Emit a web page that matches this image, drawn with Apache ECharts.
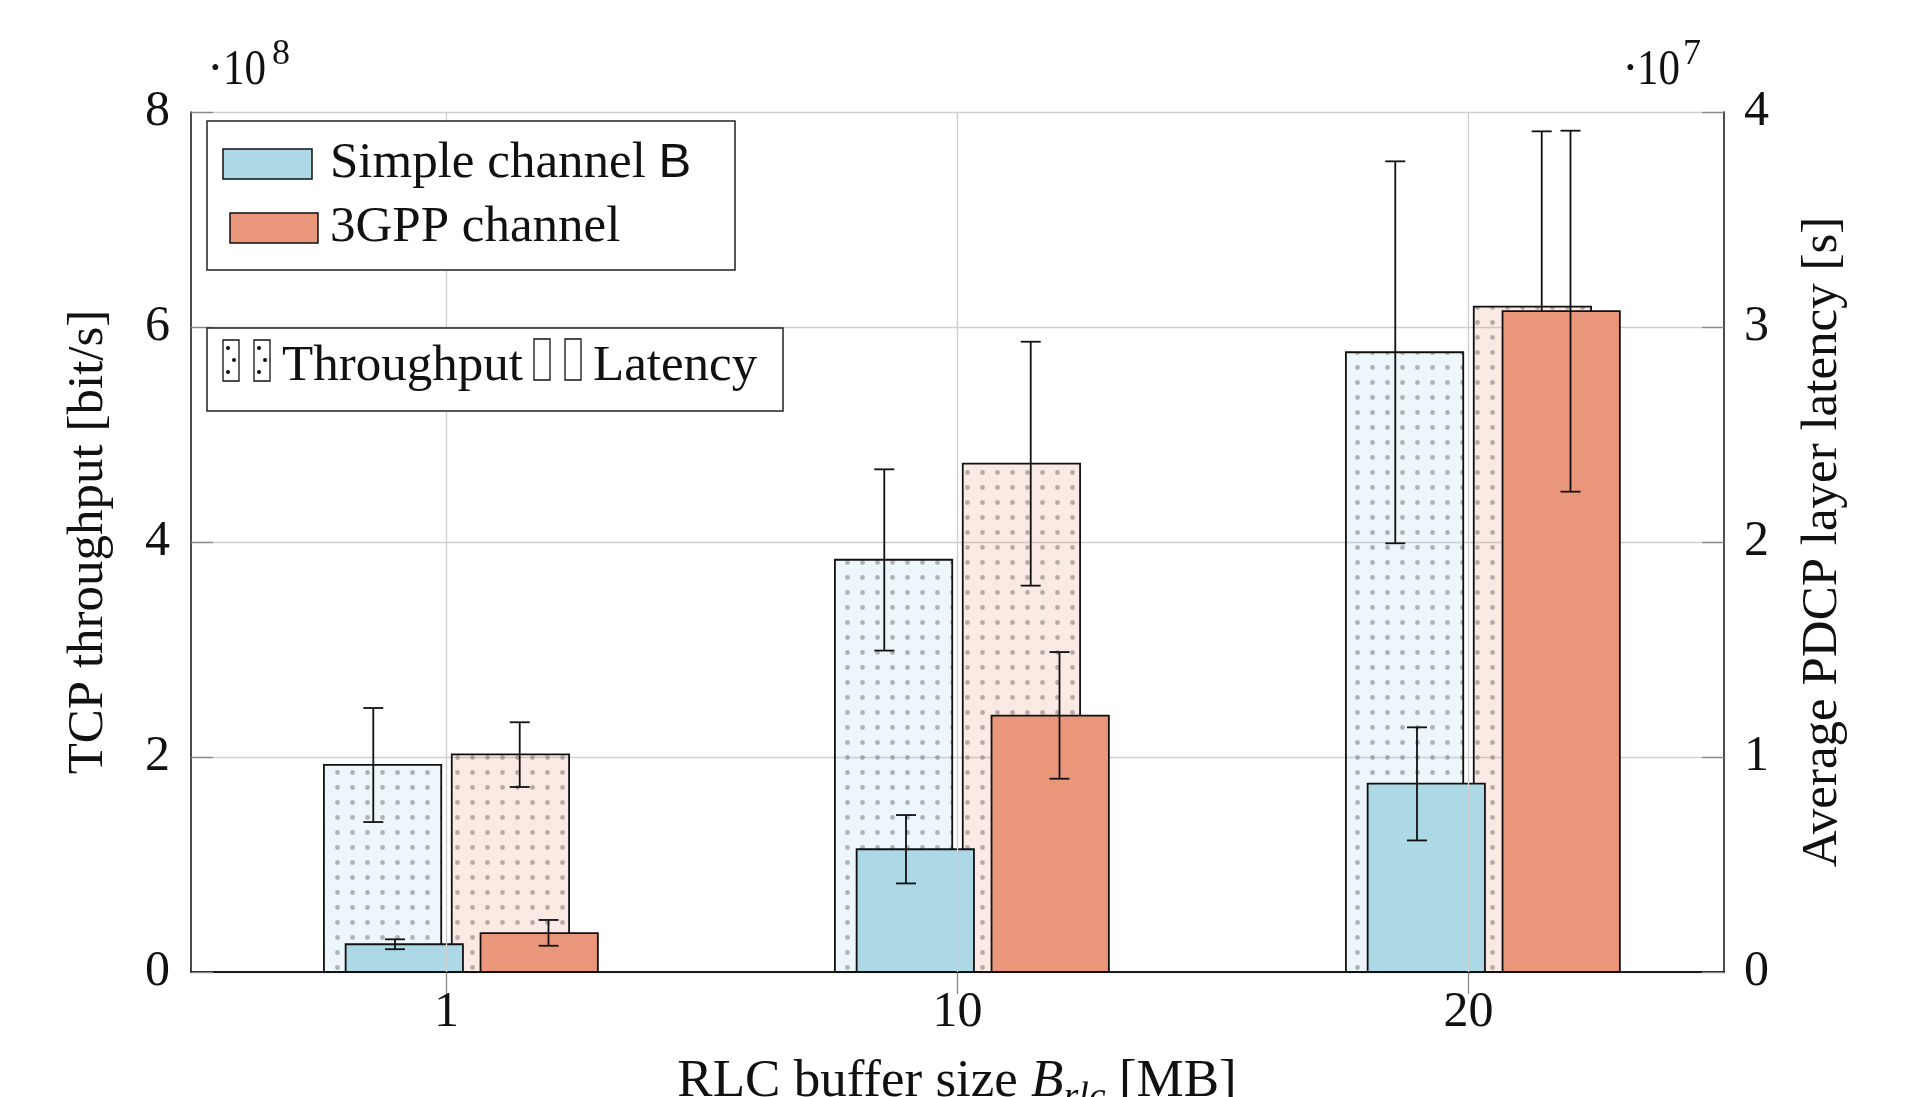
<!DOCTYPE html>
<html>
<head>
<meta charset="utf-8">
<script src="https://cdn.jsdelivr.net/npm/echarts@6/dist/echarts.min.js"></script>
<style>
html,body{margin:0;padding:0;background:#fff;}
#chart{width:1908px;height:1097px;}
</style>
</head>
<body>
<div id="chart"></div>
<script>
// ---- data ----
const categories = ['1', '10', '20'];
const leftTicks = [0, 2, 4, 6, 8];          // x 10^8
const rightTicks = [0, 1, 2, 3, 4];         // x 10^7

const simpleThroughput     = [1.926e8, 3.835e8, 5.765e8];
const simpleThroughputLow  = [1.395e8, 2.990e8, 3.988e8];
const simpleThroughputHigh = [2.456e8, 4.676e8, 7.541e8];

const gppThroughput     = [2.025e8, 4.729e8, 6.190e8];
const gppThroughputLow  = [1.721e8, 3.594e8, 4.560e8];
const gppThroughputHigh = [2.323e8, 5.863e8, 7.820e8];

const simpleLatency     = [0.129e7, 0.571e7, 0.876e7];
const simpleLatencyLow  = [0.106e7, 0.412e7, 0.612e7];
const simpleLatencyHigh = [0.152e7, 0.730e7, 1.138e7];

const gppLatency     = [0.181e7, 1.192e7, 3.074e7];
const gppLatencyLow  = [0.122e7, 0.899e7, 2.234e7];
const gppLatencyHigh = [0.242e7, 1.488e7, 3.913e7];

// ---- styling ----
const SERIF = '"Liberation Serif", "Times New Roman", serif';
const BLUE = '#add8e6';
const ORANGE = '#e9967a';
const BAR_W = 0.2296;          // fraction of category band
const ERR_OFF = 0.0182;        // error bar offset (fraction of band)

function makePattern(tint) {
  const c = document.createElement('canvas');
  c.width = 15; c.height = 15;
  const ctx = c.getContext('2d');
  ctx.fillStyle = tint;
  ctx.fillRect(0, 0, 15, 15);
  ctx.fillStyle = 'rgba(105,105,105,0.48)';
  ctx.beginPath();
  ctx.arc(7.5, 7.5, 2.4, 0, Math.PI * 2);
  ctx.fill();
  return {type: 'pattern', image: c, repeat: 'repeat'};
}
const bluePattern = makePattern('rgba(173,216,230,0.22)');
const orangePattern = makePattern('rgba(233,150,122,0.20)');

function barRenderer(offsetFrac, fill) {
  return function (params, api) {
    const i = api.value(0), v = api.value(1);
    const band = api.size([1, 0])[0];
    const w = band * BAR_W;
    const p0 = api.coord([i, 0]);
    const p1 = api.coord([i, v]);
    const cx = p0[0] + band * offsetFrac;
    return {
      type: 'rect',
      shape: {x: cx - w / 2, y: p1[1], width: w, height: p0[1] - p1[1]},
      style: {fill: fill, stroke: '#111', lineWidth: 1.8}
    };
  };
}
function errRenderer(offsetFrac) {
  return function (params, api) {
    const i = api.value(0);
    const band = api.size([1, 0])[0];
    const pl = api.coord([i, api.value(1)]);
    const ph = api.coord([i, api.value(2)]);
    const cx = pl[0] + band * offsetFrac;
    const st = {stroke: '#111', lineWidth: 1.8};
    return {
      type: 'group',
      children: [
        {type: 'line', shape: {x1: cx, y1: ph[1], x2: cx, y2: pl[1]}, style: st},
        {type: 'line', shape: {x1: cx - 10, y1: ph[1], x2: cx + 10, y2: ph[1]}, style: st},
        {type: 'line', shape: {x1: cx - 10, y1: pl[1], x2: cx + 10, y2: pl[1]}, style: st}
      ]
    };
  };
}
const toBars = arr => arr.map((v, i) => [i, v]);
const toErr = (lo, hi) => lo.map((v, i) => [i, v, hi[i]]);

function barSeries(name, yIdx, data, offset, fill, z) {
  return {name, type: 'custom', xAxisIndex: 0, yAxisIndex: yIdx, z,
    renderItem: barRenderer(offset, fill), data: toBars(data),
    encode: {x: 0, y: 1}, silent: true};
}
function errSeries(name, yIdx, lo, hi, offset, z) {
  return {name, type: 'custom', xAxisIndex: 0, yAxisIndex: yIdx, z,
    renderItem: errRenderer(offset), data: toErr(lo, hi),
    encode: {x: 0, y: [1, 2]}, silent: true};
}

// ---- x-axis title pieces measured with canvas ----
const mctx = document.createElement('canvas').getContext('2d');
function tw(t, font) { mctx.font = font; return mctx.measureText(t).width; }
const fMain = '53px ' + SERIF, fIt = 'italic 53px ' + SERIF, fSub = 'italic 38px ' + SERIF;
const parts = [
  {t: 'RLC buffer size ', f: fMain, dy: 0},
  {t: 'B', f: fIt, dy: 0},
  {t: 'rlc', f: fSub, dy: 8},
  {t: ' [MB]', f: fMain, dy: 0}
];
const totalW = parts.reduce((s, p) => s + tw(p.t, p.f), 0);
let xcur = 957 - totalW / 2;
const titleGraphics = parts.map(p => {
  const g = {type: 'text', x: xcur, y: 1097 + p.dy, silent: true,
    style: {text: p.t, font: p.f, fill: '#111', align: 'left', verticalAlign: 'bottom'}};
  xcur += tw(p.t, p.f);
  return g;
});
titleGraphics.forEach(g => { g.y += 12; });

function dotRect(x, y) {
  return [
    {type: 'rect', shape: {x, y, width: 16, height: 41}, style: {fill: '#fff', stroke: '#111', lineWidth: 1.3}},
    {type: 'circle', shape: {cx: x + 5, cy: y + 8, r: 2}, style: {fill: '#111'}},
    {type: 'circle', shape: {cx: x + 11, cy: y + 20, r: 2}, style: {fill: '#111'}},
    {type: 'circle', shape: {cx: x + 5, cy: y + 32, r: 2}, style: {fill: '#111'}}
  ];
}
function txt(t, x, baseline, size, extra) {
  return Object.assign({type: 'text', x, y: baseline - 0.305 * size, silent: true,
    style: {text: t, font: size + 'px ' + SERIF, fill: '#111', align: 'left', verticalAlign: 'middle'}}, extra || {});
}

const graphics = [
  // legend box 1
  {type: 'rect', z: 100, shape: {x: 207, y: 121, width: 528, height: 149}, style: {fill: '#fff', stroke: '#222', lineWidth: 1.5}},
  {type: 'rect', z: 101, shape: {x: 223, y: 149, width: 89, height: 30}, style: {fill: BLUE, stroke: '#111', lineWidth: 1.5}},
  {type: 'rect', z: 101, shape: {x: 230, y: 213, width: 88, height: 30}, style: {fill: ORANGE, stroke: '#111', lineWidth: 1.5}},
  {type: 'text', z: 101, x: 330, y: 179 - 15.5, silent: true,
    style: {text: '{a|Simple channel }{b|B}', verticalAlign: 'middle', align: 'left',
      rich: {a: {font: '51px ' + SERIF, fill: '#111'}, b: {font: '49px "Liberation Sans", Arial, sans-serif', fill: '#111'}}}},
  Object.assign(txt('3GPP channel', 330, 243, 51), {z: 101}),
  // legend box 2
  {type: 'rect', z: 100, shape: {x: 207, y: 328, width: 576, height: 83}, style: {fill: '#fff', stroke: '#222', lineWidth: 1.5}},
  ...dotRect(223, 340).map(e => Object.assign(e, {z: 101})),
  ...dotRect(254, 340).map(e => Object.assign(e, {z: 101})),
  Object.assign(txt('Throughput', 282, 382, 51), {z: 101}),
  {type: 'rect', z: 101, shape: {x: 534, y: 339, width: 16, height: 41}, style: {fill: '#fff', stroke: '#111', lineWidth: 1.3}},
  {type: 'rect', z: 101, shape: {x: 565, y: 339, width: 16, height: 41}, style: {fill: '#fff', stroke: '#111', lineWidth: 1.3}},
  Object.assign(txt('Latency', 593, 382, 51), {z: 101}),
  // exponent markers
  txt('\u00b7', 207, 86, 50),
  txt('10', 223, 86, 50, {scaleX: 0.86}),
  txt('8', 272, 66, 36),
  txt('\u00b7', 1622, 86, 50),
  txt('10', 1637, 86, 50, {scaleX: 0.86}),
  txt('7', 1683, 66, 36),
  ...titleGraphics
];

const chart = echarts.init(document.getElementById('chart'), null, {renderer: 'canvas'});
const axisFont = {fontFamily: SERIF, fontSize: 50, color: '#111'};
chart.setOption({
  animation: false,
  backgroundColor: '#fff',
  grid: {left: 191, right: 184, top: 112, bottom: 125, containLabel: false},
  xAxis: [
    {type: 'category', data: categories, position: 'bottom',
      axisLine: {show: true, lineStyle: {color: '#111', width: 1.5}},
      axisTick: {show: true, inside: true, alignWithLabel: true, length: 22, lineStyle: {color: '#888', width: 1.3}},
      axisLabel: Object.assign({margin: 16}, axisFont),
      splitLine: {show: false}},
    {type: 'category', data: categories, position: 'top',
      axisLine: {show: true, lineStyle: {color: '#111', width: 1.5}},
      axisTick: {show: true, inside: true, alignWithLabel: true, length: 22, lineStyle: {color: '#888', width: 1.3}},
      axisLabel: {show: false}, splitLine: {show: false}}
  ],
  yAxis: [
    {type: 'value', min: 0, max: 8e8, interval: 2e8, position: 'left',
      name: 'TCP throughput [bit/s]', nameLocation: 'middle', nameRotate: 90, nameGap: 77,
      nameTextStyle: {fontFamily: SERIF, fontSize: 51, color: '#111'},
      axisLine: {show: true, lineStyle: {color: '#111', width: 1.5}},
      axisTick: {show: true, inside: true, length: 22, lineStyle: {color: '#888', width: 1.3}},
      axisLabel: Object.assign({margin: 21, formatter: v => String(leftTicks[Math.round(v / 2e8)])}, axisFont),
      splitLine: {show: true, lineStyle: {color: '#cfcfcf', width: 1.4}}},
    {type: 'value', min: 0, max: 4e7, interval: 1e7, position: 'right',
      name: 'Average PDCP layer latency [s]', nameLocation: 'middle', nameRotate: 90, nameGap: 73,
      nameTextStyle: {fontFamily: SERIF, fontSize: 51, color: '#111'},
      axisLine: {show: true, lineStyle: {color: '#111', width: 1.5}},
      axisTick: {show: true, inside: true, length: 22, lineStyle: {color: '#888', width: 1.3}},
      axisLabel: Object.assign({margin: 20, formatter: v => String(rightTicks[Math.round(v / 1e7)])}, axisFont),
      splitLine: {show: false}}
  ],
  series: [
    {name: 'vgrid', type: 'line', xAxisIndex: 0, yAxisIndex: 0, data: [], z: 1, silent: true,
      markLine: {silent: true, symbol: ['none', 'none'], label: {show: false},
        lineStyle: {color: '#cfcfcf', width: 1.4, type: 'solid'},
        data: categories.map(c => ({xAxis: c}))}},
    barSeries('Simple channel B throughput', 0, simpleThroughput, -0.1251, bluePattern, 2),
    barSeries('3GPP channel throughput', 0, gppThroughput, 0.1251, orangePattern, 2),
    errSeries('Simple throughput err', 0, simpleThroughputLow, simpleThroughputHigh, -0.1251 - ERR_OFF, 3),
    errSeries('3GPP throughput err', 0, gppThroughputLow, gppThroughputHigh, 0.1251 + ERR_OFF, 3),
    barSeries('Simple channel B latency', 1, simpleLatency, -0.0826, BLUE, 4),
    barSeries('3GPP channel latency', 1, gppLatency, 0.1814, ORANGE, 4),
    errSeries('Simple latency err', 1, simpleLatencyLow, simpleLatencyHigh, -0.0826 - ERR_OFF, 5),
    errSeries('3GPP latency err', 1, gppLatencyLow, gppLatencyHigh, 0.1814 + ERR_OFF, 5)
  ],
  graphic: graphics
});
</script>
</body>
</html>
